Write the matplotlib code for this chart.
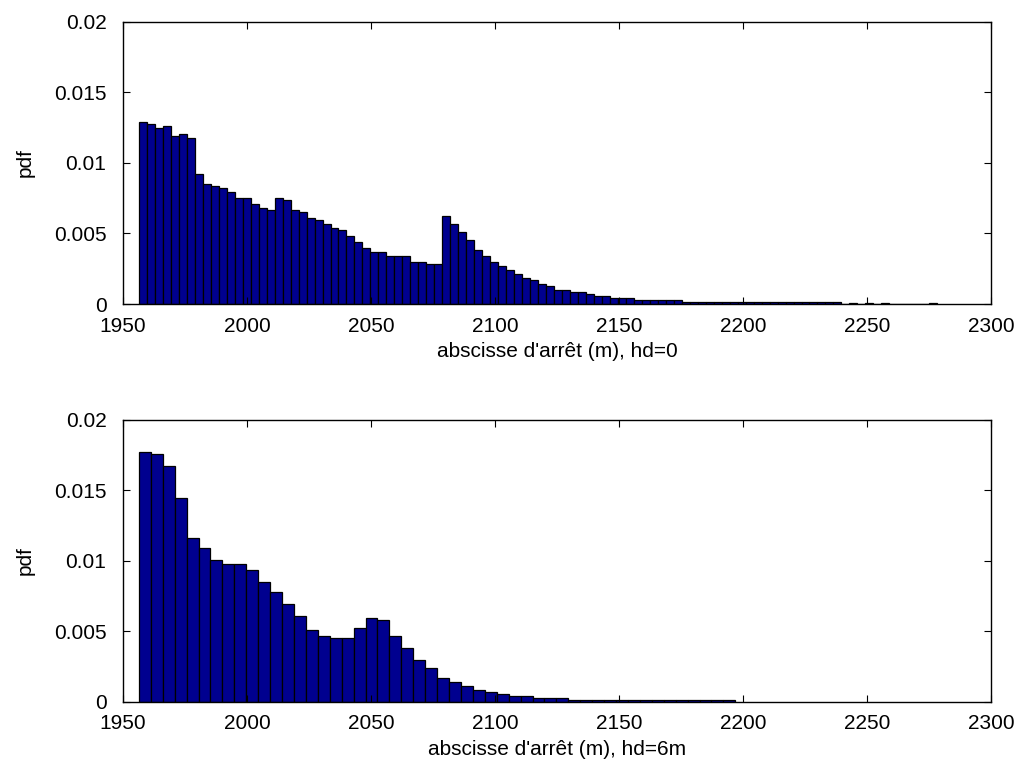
import numpy as np
import matplotlib
matplotlib.use("Agg")
import matplotlib.pyplot as plt

plt.rcParams['font.family'] = ['Liberation Sans', 'DejaVu Sans']

# histogram range of the stopping abscissa (m)
top_range = (1956.4, 2278.3)      # hd=0, 100 bins
bottom_range = (1956.4, 2196.9)   # hd=6m, 50 bins

pdf_hd0 = [
    0.01287, 0.01273, 0.01245, 0.01261, 0.01188, 0.01202, 0.01174, 0.00919, 0.00848, 0.00834,
    0.00820, 0.00791, 0.00749, 0.00749, 0.00706, 0.00678, 0.00664, 0.00749, 0.00735, 0.00664,
    0.00650, 0.00607, 0.00593, 0.00565, 0.00536, 0.00522, 0.00480, 0.00437, 0.00395, 0.00366,
    0.00366, 0.00338, 0.00338, 0.00338, 0.00295, 0.00295, 0.00281, 0.00281, 0.00621, 0.00565,
    0.00508, 0.00451, 0.00380, 0.00338, 0.00295, 0.00267, 0.00238, 0.00210, 0.00182, 0.00168,
    0.00140, 0.00125, 0.00097, 0.00097, 0.00083, 0.00083, 0.00069, 0.00055, 0.00055, 0.00040,
    0.00040, 0.00040, 0.00026, 0.00026, 0.00026, 0.00026, 0.00026, 0.00026, 0.00011, 0.00011,
    0.00011, 0.00011, 0.00011, 0.00011, 0.00011, 0.00011, 0.00011, 0.00011, 0.00011, 0.00011,
    0.00011, 0.00011, 0.00011, 0.00011, 0.00011, 0.00011, 0.00011, 0.00011, 0.0, 0.00008,
    0.0, 0.00008, 0.0, 0.00008, 0.0, 0.0, 0.0, 0.0, 0.0, 0.00008,
]

pdf_hd6 = [
    0.01771, 0.01757, 0.01672, 0.01445, 0.01161, 0.01090, 0.01005, 0.00977, 0.00977, 0.00934,
    0.00849, 0.00778, 0.00693, 0.00608, 0.00509, 0.00466, 0.00452, 0.00452, 0.00523, 0.00594,
    0.00580, 0.00466, 0.00381, 0.00296, 0.00239, 0.00168, 0.00140, 0.00111, 0.00083, 0.00069,
    0.00055, 0.00040, 0.00040, 0.00026, 0.00026, 0.00026, 0.00011, 0.00011, 0.00011, 0.00011,
    0.00011, 0.00011, 0.00011, 0.00011, 0.00011, 0.00011, 0.00011, 0.00011, 0.00011, 0.00011,
]

xlabels = ["abscisse d'arrêt (m), hd=0", "abscisse d'arrêt (m), hd=6m"]
xticks = [1950, 2000, 2050, 2100, 2150, 2200, 2250, 2300]
yticks = [0, 0.005, 0.01, 0.015, 0.02]
ytick_labels = ['0', '0.005', '0.01', '0.015', '0.02']

fig = plt.figure(figsize=(10.22, 7.72), dpi=100)
ax1 = fig.add_axes([0.1204, 0.6062, 0.8493, 0.3657])
ax2 = fig.add_axes([0.1204, 0.0907, 0.8493, 0.3653])

for ax, vals, rng, lab in [(ax1, pdf_hd0, top_range, xlabels[0]),
                           (ax2, pdf_hd6, bottom_range, xlabels[1])]:
    edges = np.linspace(rng[0], rng[1], len(vals) + 1)
    ax.bar(edges[:-1], vals, width=np.diff(edges), align='edge',
           color='#00008f', edgecolor='black', linewidth=0.9)
    ax.set_xlim(1950, 2300)
    ax.set_ylim(0, 0.02)
    ax.set_xticks(xticks)
    ax.set_yticks(yticks)
    ax.set_yticklabels(ytick_labels)
    ax.tick_params(direction='in', top=True, right=True, labelsize=15, length=5)
    ax.tick_params(axis='x', pad=9)
    ax.tick_params(axis='y', pad=12)
    ax.set_xlabel(lab, fontsize=15, labelpad=5)
    ax.set_ylabel('pdf', fontsize=15, labelpad=14)
    for s in ax.spines.values():
        s.set_linewidth(1.0)

fig.savefig('out.png', dpi=100)
